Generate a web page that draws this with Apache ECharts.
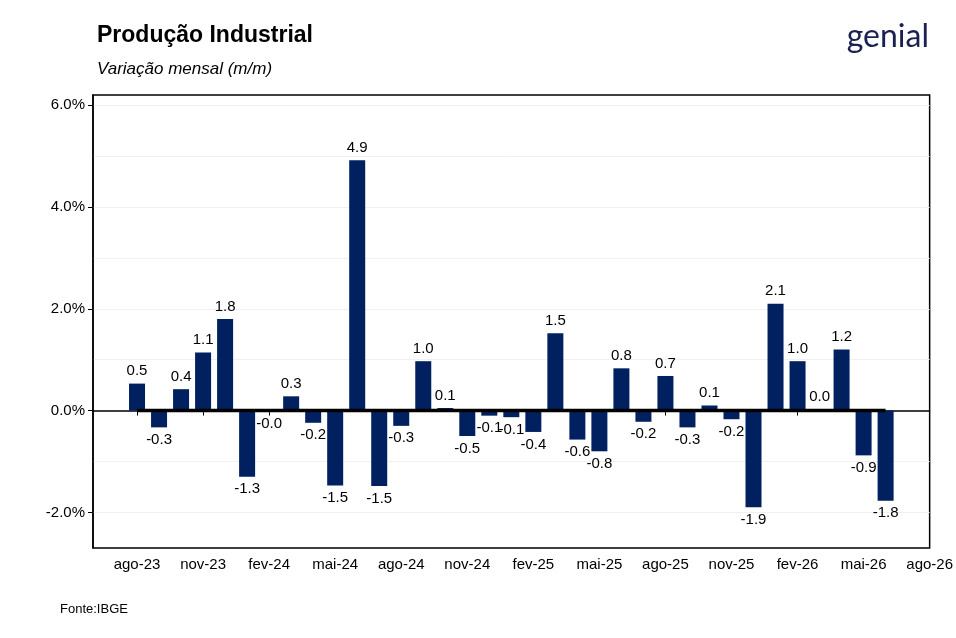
<!DOCTYPE html>
<html><head><meta charset="utf-8">
<script src="https://cdn.jsdelivr.net/npm/echarts@6/dist/echarts.min.js"></script>
<style>body{margin:0;background:#fff}#c{width:956px;height:638px}</style>
</head><body><div id="c"></div>
<script>
const categories=['jun-23','jul-23','ago-23','set-23','out-23','nov-23','dez-23','jan-24','fev-24','mar-24','abr-24','mai-24','jun-24','jul-24','ago-24','set-24','out-24','nov-24','dez-24','jan-25','fev-25','mar-25','abr-25','mai-25','jun-25','jul-25','ago-25','set-25','out-25','nov-25','dez-25','jan-26','fev-26','mar-26','abr-26','mai-26','jun-26','jul-26','ago-26'];
const values=[null,null,0.53,-0.33,0.42,1.14,1.8,-1.3,-0.02,0.28,-0.24,-1.47,4.92,-1.48,-0.3,0.97,0.05,-0.5,-0.1,-0.13,-0.42,1.52,-0.57,-0.8,0.83,-0.22,0.68,-0.33,0.1,-0.17,-1.9,2.1,0.97,0.02,1.2,-0.88,-1.77,null,null];
const labeledTicks=['ago-23','nov-23','fev-24','mai-24','ago-24','nov-24','fev-25','mai-25','ago-25','nov-25','fev-26','mai-26','ago-26'];
const yLabels=[-2,0,2,4,6];
const gridVals=[-2,-1,1,2,3,4,5,6];
const chart=echarts.init(document.getElementById('c'));
const show=(i,v)=>labeledTicks.includes(v);
chart.setOption({
 animation:false,
 title:[{text:'Produção Industrial',left:92,top:19,textStyle:{fontFamily:'Liberation Sans',fontSize:23,fontWeight:'bold',color:'#000'}},
  {text:'Variação mensal (m/m)',left:92,top:56,textStyle:{fontFamily:'Liberation Sans',fontSize:17,fontStyle:'italic',fontWeight:'normal',color:'#000'}},
  {text:'genial',right:22,top:16,textStyle:{fontFamily:'Lato',fontSize:32,fontWeight:'normal',color:'#1a2050'}},
  {text:'Fonte:IBGE',left:55,top:598,textStyle:{fontFamily:'Liberation Sans',fontSize:13,fontWeight:'normal',color:'#000'}}],
 grid:{left:93,right:25,top:95,bottom:90,show:true,borderColor:'#000',borderWidth:1.5},
 xAxis:{type:'category',data:categories,boundaryGap:false,
  axisLine:{lineStyle:{color:'#000',width:1.5}},
  axisTick:{interval:show,length:5,lineStyle:{color:'#000'}},
  axisLabel:{interval:show,color:'#000',fontSize:15,fontFamily:'Liberation Sans',margin:9},
  splitLine:{show:false}},
 yAxis:{type:'value',min:-2.7,max:6.2,
  axisLine:{show:true,lineStyle:{color:'#000',width:1.5}},
  axisTick:{show:true,customValues:yLabels,length:5,lineStyle:{color:'#000'}},
  axisLabel:{customValues:yLabels,formatter:v=>v.toFixed(1)+'%',color:'#000',fontSize:15,fontFamily:'Liberation Sans'},
  splitLine:{show:false}},
 series:[
  {type:'line',data:[],z:0,silent:true,
   markLine:{z:0,silent:true,symbol:'none',label:{show:false},data:gridVals.map(y=>({yAxis:y})),lineStyle:{color:'#f0f0f0',width:1,type:'solid'}}},
  {type:'bar',data:values.map(v=>v==null?null:{value:v,label:{position:v>=0?'top':'bottom'}}),
  barWidth:16,itemStyle:{color:'#002060'},
  label:{show:true,formatter:p=>p.value.toFixed(1),color:'#000',fontSize:15,fontFamily:'Liberation Sans',distance:5},
  z:3},
  {type:'line',data:values.map(v=>v==null?null:0),symbol:'none',silent:true,lineStyle:{color:'#000',width:3.5},z:4}
 ]
});
</script></body></html>
